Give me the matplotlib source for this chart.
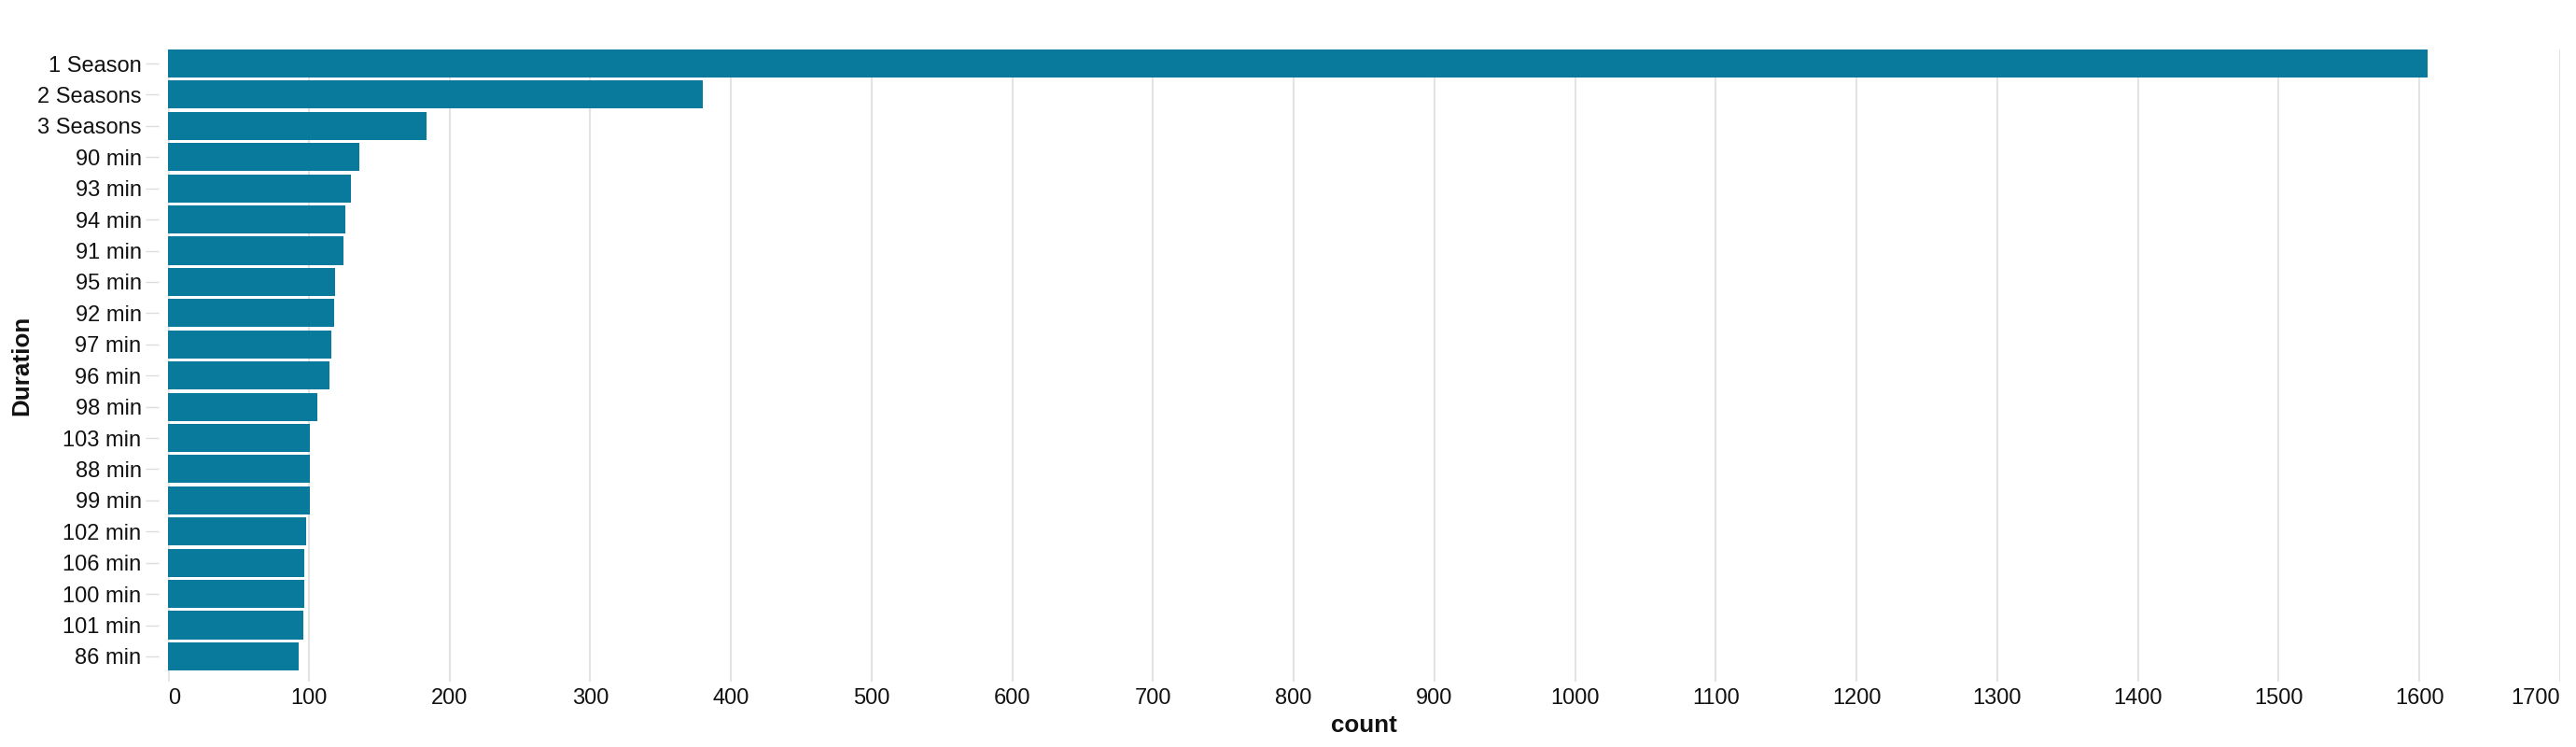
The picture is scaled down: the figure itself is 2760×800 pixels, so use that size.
import matplotlib
matplotlib.use("Agg")
import matplotlib.pyplot as plt

# duration categories, top to bottom
durations = ["1 Season", "2 Seasons", "3 Seasons", "90 min", "93 min", "94 min",
             "91 min", "95 min", "92 min", "97 min", "96 min", "98 min",
             "103 min", "88 min", "99 min", "102 min", "106 min", "100 min",
             "101 min", "86 min"]
counts = [1606, 380, 184, 136, 130, 126, 125, 119, 118, 116, 115, 106,
          101, 101, 101, 98, 97, 97, 96, 93]
x_ticks = list(range(0, 1800, 100))

plt.rcParams['font.family'] = ['Liberation Sans', 'DejaVu Sans']

fig = plt.figure(figsize=(27.6, 8), dpi=100)
ax = fig.add_axes([180 / 2760, 70 / 800, 2563 / 2760, 677 / 800])

pos = list(range(len(durations)))
ax.barh(pos, counts, height=0.9, color='#0a7a9c', zorder=2)

ax.set_xlim(0, 1700)
ax.set_ylim(19.81, -0.45)

# grid
ax.set_xticks(x_ticks)
ax.grid(axis='x', color='#e3e3e3', linewidth=1.5, zorder=0)
ax.grid(axis='y', visible=False)
ax.tick_params(axis='x', length=0, pad=5, labelsize=17, labelcolor='#111111')
labels = ax.set_xticklabels([str(t) for t in x_ticks])
labels[0].set_horizontalalignment('left')
labels[-1].set_horizontalalignment('right')

ax.set_yticks(pos)
ax.set_yticklabels(durations)
ax.tick_params(axis='y', length=10, width=1, color='#dddddd', pad=3.5,
               labelsize=17, labelcolor='#111111')

for s in ax.spines.values():
    s.set_visible(False)
ax.spines['left'].set_position(('outward', 7))
ax.axvline(0, color='#888888', linewidth=1.0, zorder=1)

ax.set_xlabel('count', fontsize=18.7, fontweight='bold', color='#111111', va='center')
ax.xaxis.set_label_coords(0.5, -47 / 677)
ax.set_ylabel('Duration', fontsize=18.7, fontweight='bold', color='#111111', va='center')
ax.yaxis.set_label_coords(-157 / 2563, 0.5)

fig.savefig('out.png', dpi=100, facecolor='white')
